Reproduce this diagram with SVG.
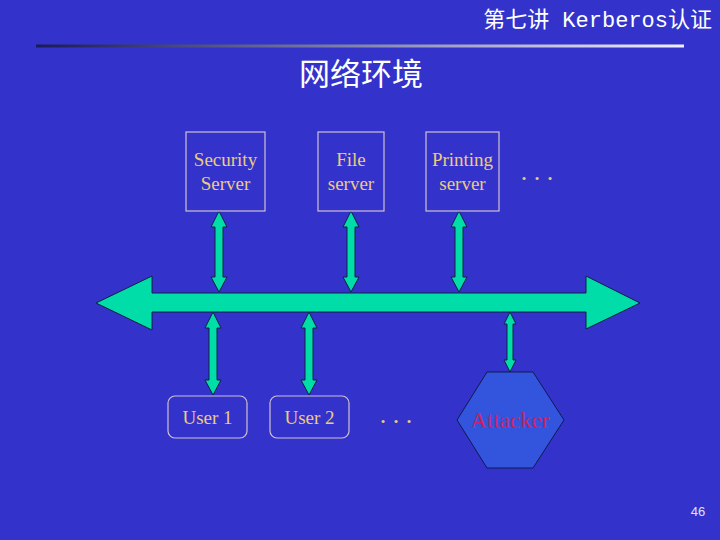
<svg xmlns="http://www.w3.org/2000/svg" width="720" height="540" viewBox="0 0 720 540">
<defs>
<linearGradient id="lg" x1="0" y1="0" x2="1" y2="0">
<stop offset="0" stop-color="#1a1a55"/>
<stop offset="1" stop-color="#f0f0ff"/>
</linearGradient>
<style>
.box{fill:none;stroke:#d0c0d0;stroke-width:1.2}
.lbl{font-family:"Liberation Serif",serif;font-size:19px;fill:#eccb80;text-anchor:middle}
.arr{fill:#00dda8;stroke:#102040;stroke-width:1}
.dots{font-family:"Liberation Serif",serif;font-size:26px;fill:#eccb80;text-anchor:middle}
</style>
</defs>
<rect width="720" height="540" fill="#3333cc"/>
<text x="712" y="27" text-anchor="end" font-family="'Liberation Mono','Noto Sans CJK SC',monospace" font-size="22" fill="#ffffff">第七讲 Kerberos认证</text>
<rect x="36" y="44.5" width="648" height="3" fill="url(#lg)"/>
<text x="361" y="85" text-anchor="middle" font-family="'Noto Sans CJK SC',sans-serif" font-size="31" fill="#ffffff">网络环境</text>

<g id="connectors">
<polygon id="bus" class="arr" points="96,303 152,276 152,293 586,293 586,276 640,303 586,329 586,312 152,312 152,330"/>
<polygon class="arr" points="219,211 227,227 223,227 223,277 227,277 219,292 211,277 215,277 215,227 211,227"/>
<polygon class="arr" points="351,211 359,227 355,227 355,277 359,277 351,292 343,277 347,277 347,227 343,227"/>
<polygon class="arr" points="459,211 467,227 463,227 463,277 467,277 459,292 451,277 455,277 455,227 451,227"/>
<polygon class="arr" points="213,312 221,328 217,328 217,380 221,380 213,395 205,380 209,380 209,328 205,328"/>
<polygon class="arr" points="309,312 317,328 313,328 313,380 317,380 309,395 301,380 305,380 305,328 301,328"/>
<polygon class="arr" points="510,312 516,324 513,324 513,360 516,360 510,372 504,360 507,360 507,324 504,324"/>
</g>

<g id="security-server">
<rect class="box" x="186" y="132" width="79" height="79"/>
<text class="lbl" x="225.5" y="166">Security</text>
<text class="lbl" x="225.5" y="190">Server</text>
</g>
<g id="file-server">
<rect class="box" x="318" y="132" width="66" height="79"/>
<text class="lbl" x="351" y="166">File</text>
<text class="lbl" x="351" y="190">server</text>
</g>
<g id="printing-server">
<rect class="box" x="426" y="132" width="73" height="79"/>
<text class="lbl" x="462.5" y="166">Printing</text>
<text class="lbl" x="462.5" y="190">server</text>
</g>
<g id="more-servers">
<text class="dots" x="537" y="180">. . .</text>
</g>
<g id="user1">
<rect class="box" x="168" y="396" width="79" height="42" rx="7"/>
<text class="lbl" x="207.5" y="424">User 1</text>
</g>
<g id="user2">
<rect class="box" x="270" y="396" width="79" height="42" rx="7"/>
<text class="lbl" x="309.5" y="424">User 2</text>
</g>
<g id="more-users">
<text class="dots" x="396" y="423">. . .</text>
</g>
<g id="attacker">
<polygon points="487,372 533,372 564,420 533,468 487,468 457,420" fill="#3355dd" stroke="#101850" stroke-width="1"/>
<text x="510" y="428" text-anchor="middle" font-family="'Liberation Serif',serif" font-size="23" fill="#cc2266">Attacker</text>
</g>
<text x="698" y="516" text-anchor="middle" font-family="'Liberation Sans',sans-serif" font-size="13" fill="#e0e0f0">46</text>
</svg>
